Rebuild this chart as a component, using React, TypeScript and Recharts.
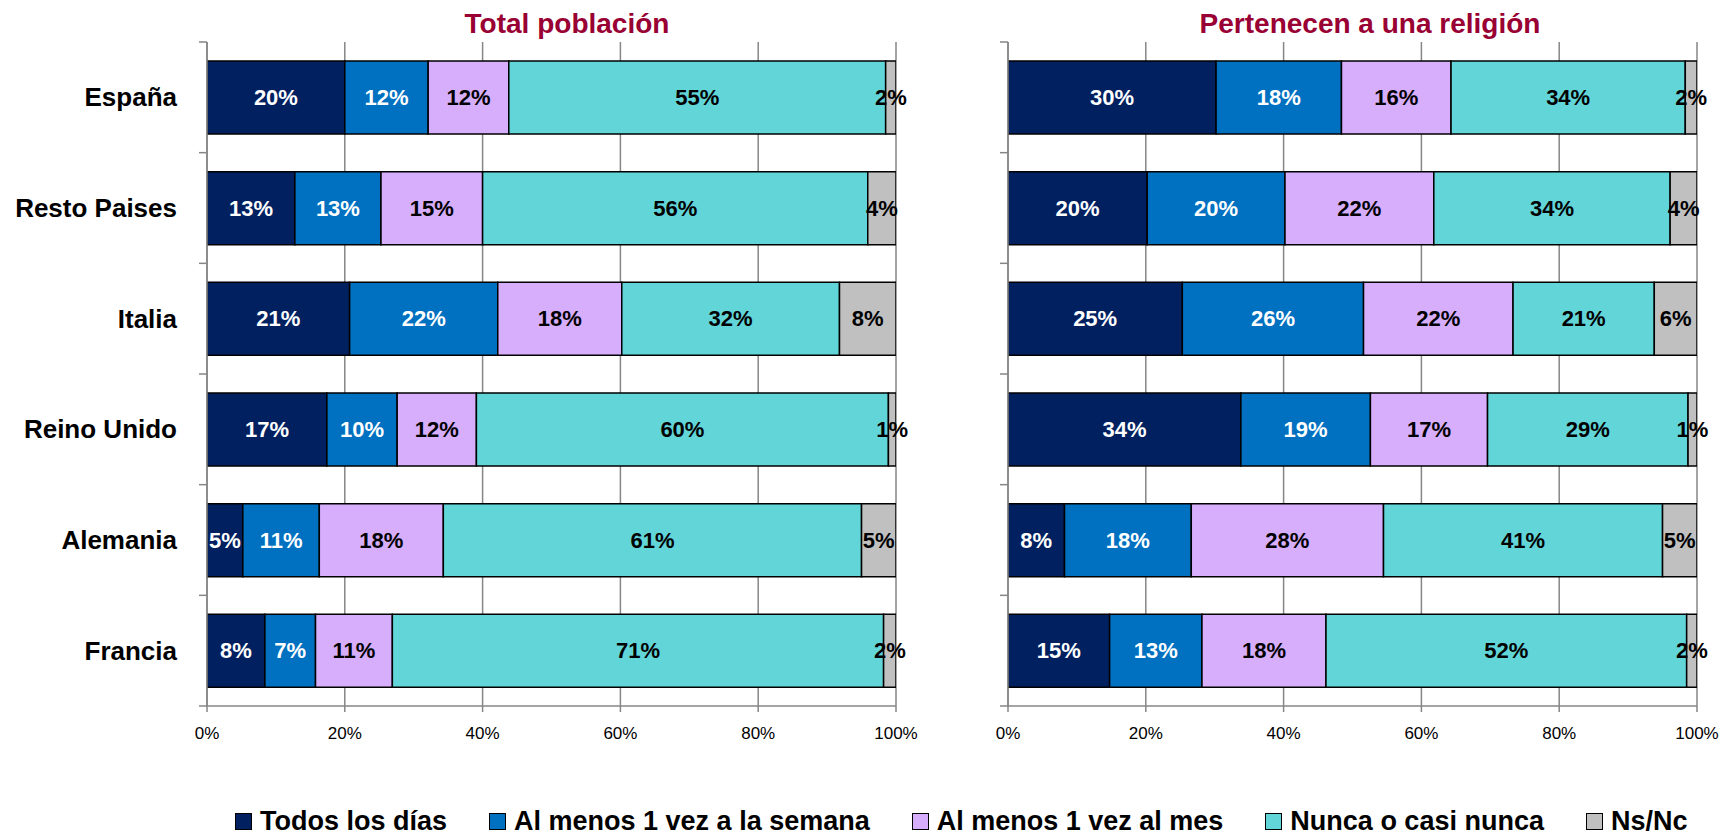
import React from "react";
import { BarChart, Bar, XAxis, YAxis, CartesianGrid, LabelList } from "recharts";

const countries = ["España", "Resto Paises", "Italia", "Reino Unido", "Alemania", "Francia"];
const seriesNames = [
  "Todos los días",
  "Al menos 1 vez a la semana",
  "Al menos 1 vez al mes",
  "Nunca o casi nunca",
  "Ns/Nc",
];
const seriesColors = ["#002060", "#0070C0", "#D7AEFC", "#62D5D8", "#C0C0C0"];
const labelColors = ["#FFFFFF", "#FFFFFF", "#000000", "#000000", "#000000"];
const xTicks = [0, 20, 40, 60, 80, 100];

// Total población (% per country)
const totalTodos = [20, 12.75, 20.7, 17.4, 5.2, 8.4];
const totalSemana = [12.1, 12.5, 21.5, 10.2, 11.1, 7.35];
const totalMes = [11.7, 14.75, 18, 11.5, 18, 11.15];
const totalNunca = [54.7, 55.9, 31.6, 59.8, 60.7, 71.3];
const totalNsNc = [1.5, 4.1, 8.2, 1.1, 5, 1.8];

// Pertenecen a una religión (% per country)
const religTodos = [30.2, 20.2, 25.3, 33.8, 8.2, 14.75];
const religSemana = [18.2, 20, 26.3, 18.8, 18.4, 13.4];
const religMes = [15.9, 21.6, 21.7, 17, 27.9, 18];
const religNunca = [34, 34.3, 20.5, 29.1, 40.5, 52.35];
const religNsNc = [1.7, 3.9, 6.2, 1.3, 5, 1.5];

const GRID = "#868686";
const CHART_H = 760;
const PLOT_TOP = 42;
const X_AXIS_H = 54;
const BAND = (CHART_H - PLOT_TOP - X_AXIS_H) / countries.length;

function buildRows(series: number[][]) {
  return countries.map((name, i) => {
    const row: any = { name };
    series.forEach((s, k) => (row["s" + k] = s[i]));
    return row;
  });
}

const makeLabel = (color: string) => (props: any) => {
  const { x, y, width, height, value } = props;
  return (
    <text
      x={x + width / 2}
      y={y + height / 2}
      textAnchor="middle"
      dominantBaseline="central"
      fill={color}
      fontSize={22}
      fontWeight={700}
    >
      {Math.round(value)}%
    </text>
  );
};

function Panel({
  series,
  width,
  yWidth,
  rightMargin,
  showNames,
}: {
  series: number[][];
  width: number;
  yWidth: number;
  rightMargin: number;
  showNames: boolean;
}) {
  const rows = buildRows(series);
  const axisX = yWidth;

  const CategoryTick = (props: any) => {
    const { y, payload, index } = props;
    return (
      <g>
        <line x1={axisX - 8} x2={axisX} y1={y - BAND / 2} y2={y - BAND / 2} stroke={GRID} strokeWidth={1.5} />
        {index === countries.length - 1 && (
          <line x1={axisX - 8} x2={axisX} y1={y + BAND / 2} y2={y + BAND / 2} stroke={GRID} strokeWidth={1.5} />
        )}
        {showNames && (
          <text
            x={axisX - 30}
            y={y}
            textAnchor="end"
            dominantBaseline="central"
            fontSize={26}
            fontWeight={700}
            fill="#000"
          >
            {payload.value}
          </text>
        )}
      </g>
    );
  };

  return (
    <BarChart
      width={width}
      height={CHART_H}
      data={rows}
      layout="vertical"
      margin={{ top: PLOT_TOP, right: rightMargin, bottom: 0, left: 0 }}
      barSize={73}
    >
      <CartesianGrid horizontal={false} stroke={GRID} strokeWidth={1.5} />
      <XAxis
        type="number"
        domain={[0, 100]}
        ticks={xTicks}
        allowDataOverflow
        tickFormatter={(v: number) => `${v}%`}
        height={X_AXIS_H}
        axisLine={{ stroke: GRID, strokeWidth: 1.5 }}
        tickLine={{ stroke: GRID, strokeWidth: 1.5 }}
        tickSize={6}
        tickMargin={15}
        tick={{ fontSize: 17, fill: "#000" }}
      />
      <YAxis
        type="category"
        dataKey="name"
        width={yWidth}
        axisLine={{ stroke: GRID, strokeWidth: 1.5 }}
        tickLine={false}
        tick={<CategoryTick />}
        interval={0}
      />
      {series.map((_, k) => (
        <Bar
          key={k}
          dataKey={"s" + k}
          stackId="a"
          fill={seriesColors[k]}
          stroke="#000"
          strokeWidth={1.5}
          isAnimationActive={false}
        >
          <LabelList dataKey={"s" + k} content={makeLabel(labelColors[k])} />
        </Bar>
      ))}
    </BarChart>
  );
}

const titleStyle: React.CSSProperties = {
  position: "absolute",
  top: 8,
  width: 600,
  textAlign: "center",
  fontSize: 28,
  lineHeight: "32px",
  fontWeight: 700,
  color: "#990033",
};

export default function App() {
  return (
    <div
      style={{
        position: "absolute",
        left: 0,
        top: 0,
        width: 1721,
        height: 836,
        overflow: "hidden",
        background: "#fff",
        fontFamily: "'Liberation Sans', Arial, sans-serif",
      }}
    >
      <div style={{ ...titleStyle, left: 567 - 300 }}>Total población</div>
      <div style={{ ...titleStyle, left: 1370 - 300 }}>Pertenecen a una religión</div>

      <div style={{ position: "absolute", left: 0, top: 0 }}>
        <Panel
          series={[totalTodos, totalSemana, totalMes, totalNunca, totalNsNc]}
          width={940}
          yWidth={207}
          rightMargin={44}
          showNames
        />
      </div>
      <div style={{ position: "absolute", left: 900, top: 0 }}>
        <Panel
          series={[religTodos, religSemana, religMes, religNunca, religNsNc]}
          width={821}
          yWidth={108}
          rightMargin={24}
          showNames={false}
        />
      </div>

      <div
        style={{
          position: "absolute",
          left: 235,
          top: 806,
          display: "flex",
          alignItems: "baseline",
          gap: 42,
          fontSize: 27,
          lineHeight: "30px",
          fontWeight: 700,
          whiteSpace: "nowrap",
        }}
      >
        {seriesNames.map((n, i) => (
          <div key={n} style={{ display: "flex", alignItems: "baseline" }}>
            <span
              style={{
                display: "inline-block",
                width: 15,
                height: 15,
                background: seriesColors[i],
                border: "1.5px solid #000",
                marginRight: 8,
              }}
            />
            {n}
          </div>
        ))}
      </div>
    </div>
  );
}
